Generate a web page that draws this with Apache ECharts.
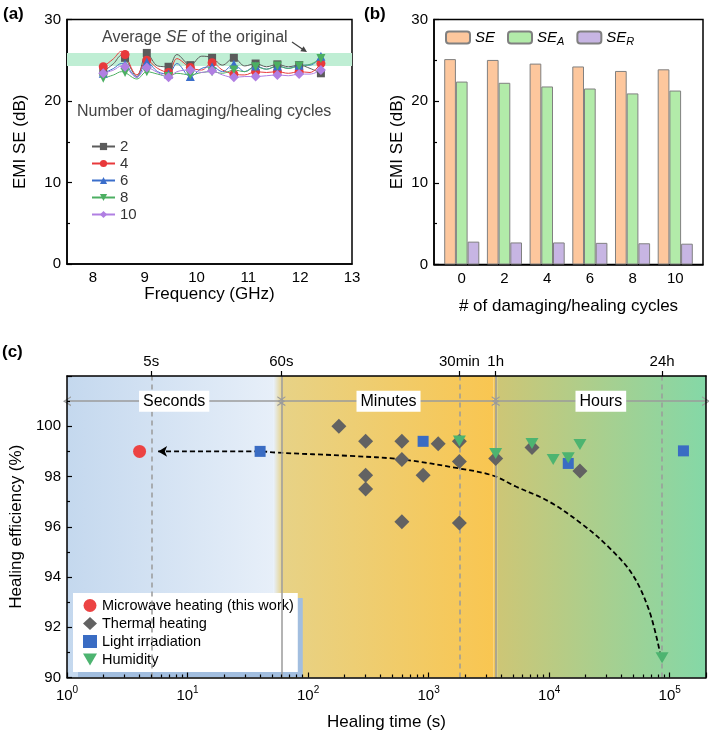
<!DOCTYPE html>
<html><head><meta charset="utf-8">
<script src="https://cdn.jsdelivr.net/npm/echarts@6/dist/echarts.min.js"></script>
<style>html,body{margin:0;padding:0;background:#fff}#c{width:709px;height:734px}</style>
</head><body><div id="c"></div>
<script>
// ---------- Panel (a) data ----------
const freqGHz = [8.2, 8.4, 8.55, 8.62, 8.85, 9.04, 9.25, 9.46, 9.62, 9.88, 10.1, 10.3, 10.5, 10.72, 10.93, 11.14, 11.35, 11.56, 11.77, 11.98, 12.19, 12.4];
const markerIdx = [0, 3, 5, 7, 9, 11, 13, 15, 17, 19, 21];
const cycles2  = [23.6, 24.6, 25.6, 25.3, 23.0, 25.9, 24.3, 24.2, 25.7, 24.4, 25.5, 25.3, 24.4, 25.3, 24.3, 24.6, 24.2, 24.5, 24.2, 24.4, 24.0, 23.4];
const cycles4  = [24.2, 25.2, 26.1, 25.7, 23.2, 25.0, 24.0, 23.5, 25.2, 24.1, 23.8, 24.7, 23.8, 23.3, 23.2, 23.6, 23.5, 23.6, 23.4, 23.6, 23.5, 24.6];
const cycles6  = [23.4, 24.0, 24.6, 24.5, 22.9, 24.8, 23.6, 23.3, 24.6, 23.0, 24.0, 24.2, 23.6, 24.5, 23.6, 24.3, 23.9, 24.3, 24.0, 24.4, 24.4, 25.5];
const cycles8  = [22.8, 23.2, 23.6, 23.5, 22.7, 23.6, 23.3, 23.0, 23.4, 23.2, 23.5, 23.6, 23.4, 23.8, 23.6, 24.2, 23.9, 24.3, 24.0, 24.3, 24.5, 25.2];
const cycles10 = [23.4, 23.8, 24.3, 24.2, 22.9, 24.1, 23.5, 22.9, 23.6, 23.8, 23.5, 23.7, 23.2, 22.9, 23.0, 23.0, 23.1, 23.2, 23.1, 23.3, 23.3, 23.8];
const bandLow = 24.3, bandHigh = 25.9;
const freqTicks = [8, 9, 10, 11, 12, 13];

// ---------- Panel (b) data ----------
const barCycles = [0, 2, 4, 6, 8, 10];
const barSE  = [25.15, 25.05, 24.6, 24.25, 23.7, 23.9];
const barSEA = [22.4, 22.25, 21.8, 21.55, 20.95, 21.3];
const barSER = [2.8, 2.7, 2.7, 2.65, 2.6, 2.55];

// ---------- Panel (c) data ----------
const microwaveX = [4];
const microwaveY = [99.0];
const thermalX = [180, 300, 300, 300, 600, 600, 600, 900, 1200, 1800, 1800, 1800, 3600, 7200, 18000];
const thermalY = [100.0, 99.4, 98.05, 97.5, 99.4, 98.68, 96.2, 98.05, 99.3, 99.4, 98.6, 96.15, 98.72, 99.15, 98.22];
const lightX = [40, 900, 14400, 130000];
const lightY = [99.0, 99.4, 98.52, 99.02];
const humidX = [1800, 3600, 7200, 10800, 14400, 18000, 86400];
const humidY = [99.41, 98.92, 99.31, 98.68, 98.75, 99.27, 90.79];
const trendX = [5.7, 40, 55, 220, 600, 1800, 3400, 5300, 10000, 18900, 31600, 49100, 67600, 83000];
const trendY = [99.0, 99.0, 98.95, 98.82, 98.68, 98.32, 98.04, 97.6, 97.0, 96.09, 95.16, 94.1, 92.66, 91.0];
const topTickSeconds = [5, 60, 1800, 3600, 86400];
const topTickLabels = ['5s', '60s', '30min', '1h', '24h'];
const dashedLineSeconds = [5, 1800, 86400];
const solidLineSeconds = [60, 3600];
const periodNames = ['Seconds', 'Minutes', 'Hours'];
const periodEdges = [1, 60, 3600, 200000];
const timeMin = 1, timeMax = 200000;
const effTicksHidden = [102];

// ---------- build ----------
const FONT = 'Arial, "Liberation Sans", sans-serif';
const chart = echarts.init(document.getElementById('c'));
const downTri = 'path://M0,0 L10,0 L5,8.7 Z';
const chevron = 'path://M5,0 L10,9 L8.6,9 L5,2.6 L1.4,9 L0,9 Z';

function lineData(vals) {
  return freqGHz.map((f, i) => markerIdx.includes(i) ? [f, vals[i]] : { value: [f, vals[i]], symbol: 'none' });
}
const aDefs = [
  { name: '2', vals: cycles2, color: '#5b5b5b', symbol: 'rect', size: 8 },
  { name: '4', vals: cycles4, color: '#e8393b', symbol: 'circle', size: 9 },
  { name: '6', vals: cycles6, color: '#3b6ecb', symbol: 'triangle', size: 9 },
  { name: '8', vals: cycles8, color: '#4caf62', symbol: downTri, size: 9 },
  { name: '10', vals: cycles10, color: '#b07fe2', symbol: 'diamond', size: 10 }
];
const lg = v => Math.log10(v);
const logMax = lg(timeMax);
const topLog = topTickSeconds.map(lg);
const minorLog = [];
for (let n = 0; n <= 5; n++) for (let k = 2; k <= 9; k++) { const v = k * Math.pow(10, n); if (v < timeMax) minorLog.push(lg(v)); }

const G = echarts.graphic.LinearGradient;
const bgEdges = [1, 52, 61, 3450, 3750, 200000];
const bgColors = [['#c4d8ee', '#e7eff9'], ['#e7eff9', '#e7d286'], ['#e7d286', '#f9c651'], ['#f9c651', '#cdc676'], ['#cdc676', '#84d8a7']];

const series = [];
// (a) band
series.push({ type: 'line', xAxisIndex: 0, yAxisIndex: 0, data: [], z: 1, silent: true,
  markArea: { silent: true, itemStyle: { color: '#bfeed4' }, data: [[{ yAxis: bandLow }, { yAxis: bandHigh }]] } });
aDefs.forEach(d => series.push({
  type: 'line', name: d.name, xAxisIndex: 0, yAxisIndex: 0, data: lineData(d.vals), smooth: 0.35,
  symbol: d.symbol, symbolSize: d.size, showSymbol: true,
  lineStyle: { width: 1, color: d.color }, itemStyle: { color: d.color }
}));
// (b) bars
const bDefs = [
  { name: 'SE', vals: barSE, color: '#fdc79d' },
  { name: 'SEA', vals: barSEA, color: '#b2eba9' },
  { name: 'SER', vals: barSER, color: '#c7b5e3' }
];
bDefs.forEach(d => series.push({
  type: 'bar', name: d.name, xAxisIndex: 1, yAxisIndex: 1, barWidth: 11.7, barGap: '0%',
  data: barCycles.map((c, i) => [c, d.vals[i]]),
  itemStyle: { color: d.color, borderColor: '#808080', borderWidth: 1 }
}));
// (c) background
series.push({ type: 'line', xAxisIndex: 2, yAxisIndex: 2, data: [], z: 1, silent: true,
  markArea: { silent: true, data: bgColors.map((c, i) => [
    { xAxis: bgEdges[i], itemStyle: { color: new G(0, 0, 1, 0, [{ offset: 0, color: c[0] }, { offset: 1, color: c[1] }]) } },
    { xAxis: bgEdges[i + 1] }]) } });
// (c) vertical reference lines
series.push({ type: 'line', xAxisIndex: 2, yAxisIndex: 2, data: [], z: 2, silent: true,
  markLine: { silent: true, symbol: 'none', animation: false, label: { show: false },
    data: dashedLineSeconds.map(s => ({ xAxis: s, lineStyle: { color: '#9b9b9b', type: [5, 4], width: 1.5 } }))
      .concat(solidLineSeconds.map(s => ({ xAxis: s, lineStyle: { color: '#9b9b9b', type: 'solid', width: 1.5 } }))) } });
// (c) period arrows and labels
series.push({ type: 'line', xAxisIndex: 2, yAxisIndex: 2, data: [], z: 3, silent: true,
  markLine: { silent: true, animation: false, symbol: [chevron, chevron], symbolSize: [10, 8],
    lineStyle: { color: '#9b9b9b', type: 'solid', width: 1.5 }, label: { show: false },
    data: periodNames.map((n, i) => [{ coord: [periodEdges[i], 101] }, { coord: [periodEdges[i + 1], 101] }]) },
  markPoint: { silent: true, animation: false, symbol: 'rect', symbolSize: 1, itemStyle: { color: 'rgba(0,0,0,0)' },
    label: { show: true, position: 'inside', formatter: p => p.name, color: '#000', fontSize: 16, fontFamily: FONT,
      backgroundColor: '#fff', padding: [3, 4, 2, 4] },
    data: periodNames.map((n, i) => ({ name: n, coord: [Math.sqrt(periodEdges[i] * periodEdges[i + 1]), 101] })) } });
// (c) trend curve
series.push({ type: 'line', name: 'trend', xAxisIndex: 2, yAxisIndex: 2, z: 4, smooth: 0.35, silent: true,
  symbol: 'arrow', symbolRotate: 90, symbolSize: [8, 9], showSymbol: true,
  itemStyle: { color: '#000' }, lineStyle: { color: '#000', width: 1.8, type: [5, 3] },
  data: trendX.map((x, i) => i === 0 ? [x, trendY[i]] : { value: [x, trendY[i]], symbol: 'none' }) });
// (c) scatter
const cDefs = [
  { name: 'Thermal heating', xs: thermalX, ys: thermalY, color: '#626262', symbol: 'diamond', size: 15 },
  { name: 'Light irradiation', xs: lightX, ys: lightY, color: '#3a6cc3', symbol: 'rect', size: 11 },
  { name: 'Humidity', xs: humidX, ys: humidY, color: '#4db470', symbol: downTri, size: [13, 11] },
  { name: 'Microwave heating (this work)', xs: microwaveX, ys: microwaveY, color: '#ec4343', symbol: 'circle', size: 13 }
];
cDefs.forEach(d => series.push({
  type: 'scatter', name: d.name, xAxisIndex: 2, yAxisIndex: 2, z: 5, symbol: d.symbol, symbolSize: d.size,
  itemStyle: { color: d.color, opacity: 1 }, data: d.xs.map((x, i) => [x, d.ys[i]])
}));

const axisLineBlack = { show: true, onZero: false, lineStyle: { color: '#000', width: 1.5 } };
const lab15 = { color: '#000', fontSize: 15, fontFamily: FONT };
const nameStyle = { color: '#000', fontSize: 17, fontFamily: FONT };

const option = {
  animation: false,
  textStyle: { fontFamily: FONT },
  grid: [
    { left: 67, top: 19.5, width: 285, height: 244.5, show: true, borderColor: '#000', borderWidth: 1.5, backgroundColor: 'transparent' },
    { left: 434, top: 19.5, width: 269, height: 245, show: true, borderColor: '#000', borderWidth: 1.5, backgroundColor: 'transparent' },
    { left: 67, top: 376, width: 640, height: 301.5 }
  ],
  xAxis: [
    { gridIndex: 0, type: 'value', min: 7.5, max: 13, axisLine: axisLineBlack, splitLine: { show: false },
      axisTick: { show: false }, axisLabel: Object.assign({ customValues: freqTicks, margin: 6 }, lab15),
      name: 'Frequency (GHz)', nameLocation: 'middle', nameGap: 21, nameTextStyle: nameStyle },
    { gridIndex: 1, type: 'value', min: -1.3, max: 11.3, axisLine: axisLineBlack, splitLine: { show: false },
      axisTick: { show: false }, axisLabel: Object.assign({ customValues: barCycles, margin: 7 }, lab15),
      name: '# of damaging/healing cycles', nameLocation: 'middle', nameGap: 33, nameTextStyle: nameStyle },
    { gridIndex: 2, type: 'log', logBase: 10, min: timeMin, max: timeMax, z: 10, axisLine: axisLineBlack, splitLine: { show: false },
      axisTick: { inside: true, length: 5, lineStyle: { color: '#000', width: 1.2 } },
      axisLabel: { margin: 8, formatter: v => { const n = Math.log10(v); return Math.abs(n - Math.round(n)) < 1e-6 && v < timeMax ? '{b|10}{s|' + Math.round(n) + '}' : ''; },
        rich: { b: { fontSize: 15, color: '#000', fontFamily: FONT, lineHeight: 20 }, s: { fontSize: 10, color: '#000', fontFamily: FONT, verticalAlign: 'top', lineHeight: 12 } } },
      name: 'Healing time (s)', nameLocation: 'middle', nameGap: 36, nameTextStyle: nameStyle },
    { gridIndex: 2, type: 'value', position: 'top', min: 0, max: logMax, z: 10, axisLine: axisLineBlack, splitLine: { show: false },
      axisTick: { show: true, customValues: topLog, length: 5, lineStyle: { color: '#000', width: 1.2 } },
      axisLabel: Object.assign({ customValues: topLog, margin: 7, formatter: v => { const i = topLog.findIndex(t => Math.abs(t - v) < 1e-6); return i >= 0 ? topTickLabels[i] : ''; } }, lab15) },
    { gridIndex: 2, type: 'value', position: 'bottom', min: 0, max: logMax, z: 10, axisLine: { show: false, onZero: false }, splitLine: { show: false },
      axisTick: { show: true, customValues: minorLog, inside: true, length: 3, lineStyle: { color: '#000', width: 1.2 } },
      axisLabel: { show: false } }
  ],
  yAxis: [
    { gridIndex: 0, type: 'value', min: 0, max: 30, interval: 10, axisLine: axisLineBlack, splitLine: { show: false },
      axisTick: { show: true, inside: true, length: 5, lineStyle: { color: '#000', width: 1.2 } },
      minorTick: { show: true, splitNumber: 2, length: 3, lineStyle: { color: '#000', width: 1.2 } }, minorSplitLine: { show: false },
      axisLabel: Object.assign({ margin: 6 }, lab15),
      name: 'EMI SE (dB)', nameLocation: 'middle', nameGap: 38, nameTextStyle: nameStyle },
    { gridIndex: 1, type: 'value', min: 0, max: 30, interval: 10, axisLine: axisLineBlack, splitLine: { show: false },
      axisTick: { show: true, inside: true, length: 5, lineStyle: { color: '#000', width: 1.2 } },
      minorTick: { show: true, splitNumber: 2, length: 3, lineStyle: { color: '#000', width: 1.2 } }, minorSplitLine: { show: false },
      axisLabel: Object.assign({ margin: 6 }, lab15),
      name: 'EMI SE (dB)', nameLocation: 'middle', nameGap: 28, nameTextStyle: nameStyle },
    { gridIndex: 2, type: 'value', min: 90, max: 102, interval: 2, z: 10, axisLine: axisLineBlack, splitLine: { show: false },
      axisTick: { show: true, inside: true, length: 5, lineStyle: { color: '#000', width: 1.2 } },
      minorTick: { show: true, splitNumber: 2, length: 3, lineStyle: { color: '#000', width: 1.2 } }, minorSplitLine: { show: false },
      axisLabel: Object.assign({ margin: 6, formatter: v => effTicksHidden.includes(v) ? '' : String(v) }, lab15),
      name: 'Healing efficiency (%)', nameLocation: 'middle', nameGap: 37, nameTextStyle: nameStyle },
    { gridIndex: 2, type: 'value', position: 'right', min: 90, max: 102, z: 10, axisLine: axisLineBlack,
      axisTick: { show: false }, axisLabel: { show: false }, splitLine: { show: false } }
  ],
  legend: [
    { data: aDefs.map(d => d.name), orient: 'vertical', left: 86, top: 134, itemWidth: 23, itemHeight: 9, itemGap: 2,
      textStyle: { fontSize: 15, color: '#333', fontFamily: FONT }, selectedMode: false },
    { data: bDefs.map(d => d.name), orient: 'horizontal', left: 440, top: 25, itemWidth: 24, itemHeight: 12, itemGap: 12,
      selectedMode: false,
      formatter: n => n === 'SE' ? '{i|SE}' : '{i|SE}{s|' + n.slice(2) + '}',
      textStyle: { fontFamily: FONT, rich: { i: { fontSize: 15, fontStyle: 'italic', color: '#000', lineHeight: 20 }, s: { fontSize: 11, fontStyle: 'italic', color: '#000', verticalAlign: 'bottom', lineHeight: 14 } } } },
    { data: ['Microwave heating (this work)', 'Thermal heating', 'Light irradiation', 'Humidity'],
      orient: 'vertical', left: 73, top: 593, itemWidth: 14, itemHeight: 13, itemGap: 3, padding: [5, 4, 5, 10],
      backgroundColor: '#fff', shadowColor: '#a2bedf', shadowOffsetX: 5, shadowOffsetY: 5, shadowBlur: 0,
      selectedMode: false, textStyle: { fontSize: 14.5, color: '#000', fontFamily: FONT } }
  ],
  graphic: [
    { type: 'text', left: 3, top: 6, style: { text: '(a)', font: 'bold 17px ' + FONT, fill: '#000' } },
    { type: 'text', left: 364, top: 6, style: { text: '(b)', font: 'bold 17px ' + FONT, fill: '#000' } },
    { type: 'text', left: 2, top: 344, style: { text: '(c)', font: 'bold 17px ' + FONT, fill: '#000' } },
    { type: 'text', left: 102, top: 30, style: { text: '{n|Average }{i|SE}{n| of the original}',
        rich: { n: { fontSize: 16, fill: '#444', fontFamily: FONT }, i: { fontSize: 16, fontStyle: 'italic', fill: '#444', fontFamily: FONT } } } },
    { type: 'text', left: 77, top: 104, style: { text: 'Number of damaging/healing cycles', font: '16px ' + FONT, fill: '#444' } },
    { type: 'line', shape: { x1: 292, y1: 42, x2: 303, y2: 49.5 }, style: { stroke: '#444', lineWidth: 1.3 } },
    { type: 'polygon', shape: { points: [[307, 52], [300.3, 51.3], [303.6, 46.2]] }, style: { fill: '#444' } }
  ],
  series: series
};
chart.setOption(option);
</script></body></html>
